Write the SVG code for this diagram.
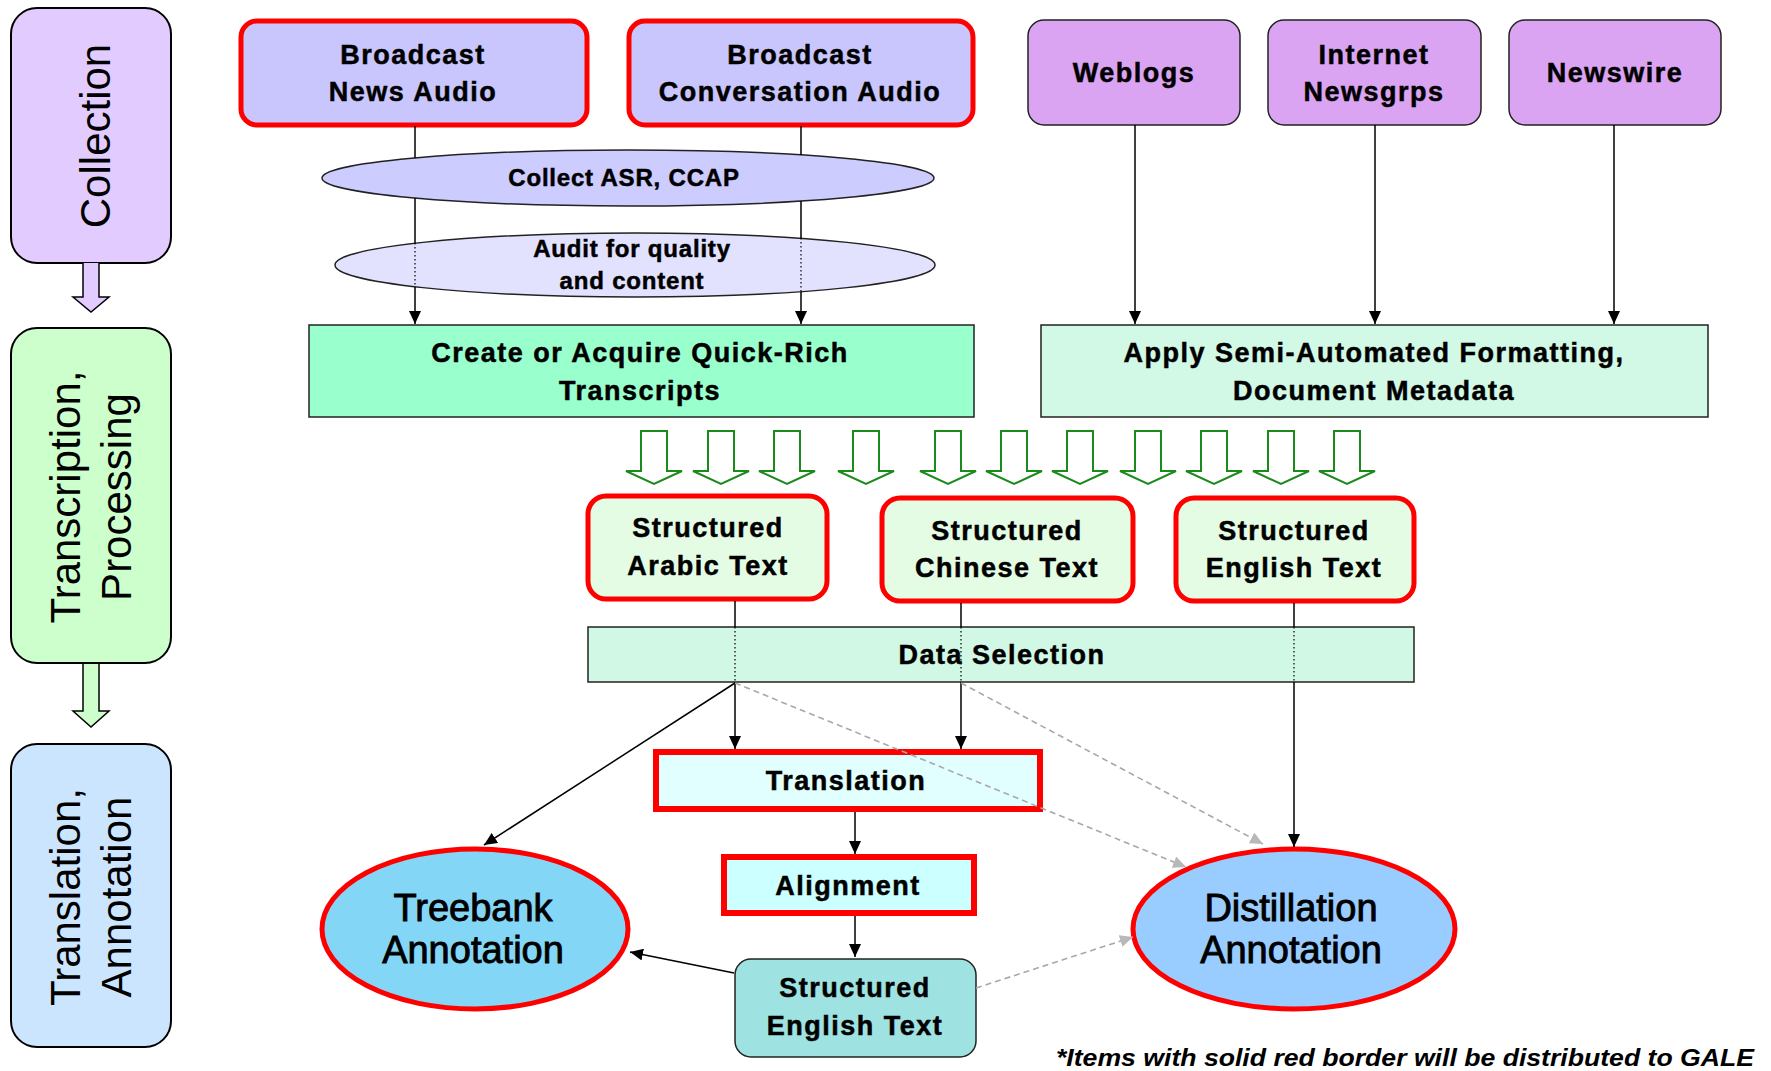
<svg xmlns="http://www.w3.org/2000/svg" width="1771" height="1071" viewBox="0 0 1771 1071">
<defs>
<style>
.lbl{font-family:"Liberation Sans",Arial,sans-serif;font-weight:bold;font-size:27px;letter-spacing:1.5px;text-anchor:middle;fill:#000;stroke:#000;stroke-width:0.5}
.sm{font-size:24px;letter-spacing:0.8px}
.side{font-family:"Liberation Sans",Arial,sans-serif;font-size:42px;text-anchor:middle;fill:#000}
.big{font-family:"Liberation Sans",Arial,sans-serif;font-size:38px;text-anchor:middle;fill:#000;stroke:#000;stroke-width:0.9}
.foot{font-family:"Liberation Sans",Arial,sans-serif;font-style:italic;font-weight:bold;font-size:24px;fill:#000}
.red{stroke:#ff0000;stroke-width:5}
.redt{stroke:#ff0000;stroke-width:6}
.thin{stroke:#222;stroke-width:1.5}
.conn{stroke:#000;stroke-width:1.5;fill:none}
.dot{stroke:#000;stroke-width:1.2;stroke-dasharray:1.5 2.5;fill:none}
.gray{stroke:#a8a8a8;stroke-width:1.6;stroke-dasharray:6 4;fill:none}
.garr{fill:#fff;stroke:#1a8a1a;stroke-width:2}
</style>
<marker id="ah" markerUnits="userSpaceOnUse" markerWidth="14" markerHeight="12" refX="13" refY="6" orient="auto">
<path d="M0,0 L13,6 L0,12 z" fill="#000"/>
</marker>
<marker id="ahg" markerUnits="userSpaceOnUse" markerWidth="14" markerHeight="12" refX="13" refY="6" orient="auto">
<path d="M0,0 L13,6 L0,12 z" fill="#b8b8b8"/>
</marker>
<path id="ga" d="M-13,0 h26 v40 h15 l-28,13 l-28,-13 h15 z"/>
</defs>
<rect width="1771" height="1071" fill="#fff"/>

<!-- stage column -->
<g id="stage-collection">
<rect x="11" y="8" width="160" height="255" rx="26" fill="#e2ccff" stroke="#000" stroke-width="2"/>
<text class="side" transform="translate(110,136) rotate(-90)">Collection</text>
</g>
<g id="stage-transcription">
<rect x="11" y="328" width="160" height="335" rx="26" fill="#ccffcc" stroke="#000" stroke-width="2"/>
<text class="side" transform="translate(80,497) rotate(-90)">Transcription,</text>
<text class="side" transform="translate(131,497) rotate(-90)">Processing</text>
</g>
<g id="stage-translation">
<rect x="11" y="744" width="160" height="303" rx="26" fill="#cce5ff" stroke="#000" stroke-width="2"/>
<text class="side" transform="translate(80,897) rotate(-90)">Translation,</text>
<text class="side" transform="translate(131,897) rotate(-90)">Annotation</text>
</g>

<!-- sources -->
<g id="bn-audio">
<rect x="241" y="21" width="346" height="104" rx="16" fill="#c8c6fc" class="red"/>
<text class="lbl" x="413" y="64">Broadcast</text>
<text class="lbl" x="413" y="101">News Audio</text>
</g>
<g id="bc-audio">
<rect x="629" y="21" width="344" height="104" rx="16" fill="#c8c6fc" class="red"/>
<text class="lbl" x="800" y="64">Broadcast</text>
<text class="lbl" x="800" y="101">Conversation Audio</text>
</g>
<g id="weblogs">
<rect x="1028" y="20" width="212" height="105" rx="16" fill="#daa4f2" class="thin"/>
<text class="lbl" x="1134" y="82">Weblogs</text>
</g>
<g id="newsgroups">
<rect x="1268" y="20" width="213" height="105" rx="16" fill="#daa4f2" class="thin"/>
<text class="lbl" x="1374" y="64">Internet</text>
<text class="lbl" x="1374" y="101">Newsgrps</text>
</g>
<g id="newswire">
<rect x="1509" y="20" width="212" height="105" rx="16" fill="#daa4f2" class="thin"/>
<text class="lbl" x="1615" y="82">Newswire</text>
</g>

<!-- process ellipses -->
<g id="collect-asr">
<ellipse cx="628" cy="178" rx="306" ry="28" fill="#ccccff" class="thin"/>
<text class="lbl sm" x="624" y="186">Collect ASR, CCAP</text>
</g>
<g id="audit">
<ellipse cx="635" cy="265" rx="300" ry="32" fill="#e2e2ff" class="thin"/>
<text class="lbl sm" x="632" y="257">Audit for quality</text>
<text class="lbl sm" x="632" y="289">and content</text>
</g>

<g id="quick-rich">
<rect x="309" y="325" width="665" height="92" fill="#99ffcc" class="thin"/>
<text class="lbl" x="640" y="362">Create or Acquire Quick-Rich</text>
<text class="lbl" x="640" y="400">Transcripts</text>
</g>
<g id="semi-auto">
<rect x="1041" y="325" width="667" height="92" fill="#d2f8e6" class="thin"/>
<text class="lbl" x="1374" y="362">Apply Semi-Automated Formatting,</text>
<text class="lbl" x="1374" y="400">Document Metadata</text>
</g>

<!-- structured text -->
<g id="struct-arabic">
<rect x="588" y="496" width="239" height="103" rx="18" fill="#e4fce4" class="red"/>
<text class="lbl" x="708" y="537">Structured</text>
<text class="lbl" x="708" y="575">Arabic Text</text>
</g>
<g id="struct-chinese">
<rect x="882" y="498" width="251" height="103" rx="18" fill="#e4fce4" class="red"/>
<text class="lbl" x="1007" y="540">Structured</text>
<text class="lbl" x="1007" y="577">Chinese Text</text>
</g>
<g id="struct-english">
<rect x="1176" y="498" width="238" height="103" rx="18" fill="#e4fce4" class="red"/>
<text class="lbl" x="1294" y="540">Structured</text>
<text class="lbl" x="1294" y="577">English Text</text>
</g>

<g id="data-selection">
<rect x="588" y="627" width="826" height="55" fill="#d0f8e4" class="thin"/>
<text class="lbl" x="1002" y="664">Data Selection</text>
</g>

<g id="translation">
<rect x="656" y="752" width="384" height="57" fill="#e2ffff" class="redt"/>
<text class="lbl" x="846" y="790">Translation</text>
</g>
<g id="alignment">
<rect x="724" y="857" width="250" height="56" fill="#ccffff" class="redt"/>
<text class="lbl" x="848" y="895">Alignment</text>
</g>
<g id="struct-english-out">
<rect x="735" y="959" width="241" height="98" rx="16" fill="#9ee2e2" class="thin"/>
<text class="lbl" x="855" y="997">Structured</text>
<text class="lbl" x="855" y="1035">English Text</text>
</g>

<g id="treebank">
<ellipse cx="475" cy="929" rx="153" ry="80" fill="#84d6f6" class="red"/>
<text class="big" x="473" y="921">Treebank</text>
<text class="big" x="473" y="963">Annotation</text>
</g>
<g id="distillation">
<ellipse cx="1294" cy="929" rx="161" ry="80" fill="#99ccff" class="red"/>
<text class="big" x="1291" y="921">Distillation</text>
<text class="big" x="1291" y="963">Annotation</text>
</g>

<!-- connectors -->
<g id="connectors">
<g id="flow-arrows" class="garr">
<use href="#ga" x="654" y="431"/>
<use href="#ga" x="721" y="431"/>
<use href="#ga" x="787" y="431"/>
<use href="#ga" x="866" y="431"/>
<use href="#ga" x="948" y="431"/>
<use href="#ga" x="1014" y="431"/>
<use href="#ga" x="1080" y="431"/>
<use href="#ga" x="1148" y="431"/>
<use href="#ga" x="1214" y="431"/>
<use href="#ga" x="1281" y="431"/>
<use href="#ga" x="1347" y="431"/>
</g>
<path d="M83,263 V297 H73 L91,312 L109,297 H99 V263" fill="#e2ccff" stroke="#000" stroke-width="1.5"/>
<path d="M83,664 V711 H73 L91,727 L109,711 H99 V664" fill="#ccffcc" stroke="#000" stroke-width="1.5"/>

<path class="conn" d="M415,126 V158"/>
<path class="conn" d="M415,198 V243"/>
<path class="dot" d="M415,243 V287"/>
<path class="conn" d="M415,287 V324" marker-end="url(#ah)"/>
<path class="conn" d="M801,126 V155"/>
<path class="conn" d="M801,201 V238"/>
<path class="dot" d="M801,238 V292"/>
<path class="conn" d="M801,292 V324" marker-end="url(#ah)"/>
<path class="conn" d="M1135,125 V324" marker-end="url(#ah)"/>
<path class="conn" d="M1375,125 V324" marker-end="url(#ah)"/>
<path class="conn" d="M1614,125 V324" marker-end="url(#ah)"/>

<path class="conn" d="M735,601 V627"/>
<path class="dot" d="M735,627 V682"/>
<path class="conn" d="M735,682 V749" marker-end="url(#ah)"/>
<path class="conn" d="M961,603 V627"/>
<path class="dot" d="M961,627 V682"/>
<path class="conn" d="M961,682 V749" marker-end="url(#ah)"/>
<path class="conn" d="M1294,603 V627"/>
<path class="dot" d="M1294,627 V682"/>
<path class="conn" d="M1294,682 V847" marker-end="url(#ah)"/>

<path class="conn" d="M735,683 L484,845" marker-end="url(#ah)"/>
<path class="gray" d="M735,683 L1186,867" marker-end="url(#ahg)"/>
<path class="gray" d="M961,683 L1263,844" marker-end="url(#ahg)"/>
<path class="gray" d="M976,988 L1133,937" marker-end="url(#ahg)"/>
<path class="conn" d="M734,973 L630,952" marker-end="url(#ah)"/>

<path class="conn" d="M855,812 V854" marker-end="url(#ah)"/>
<path class="conn" d="M855,916 V957" marker-end="url(#ah)"/>
</g>

<text class="foot" x="1056" y="1066" textLength="698" lengthAdjust="spacingAndGlyphs">*Items with solid red border will be distributed to GALE</text>
</svg>
